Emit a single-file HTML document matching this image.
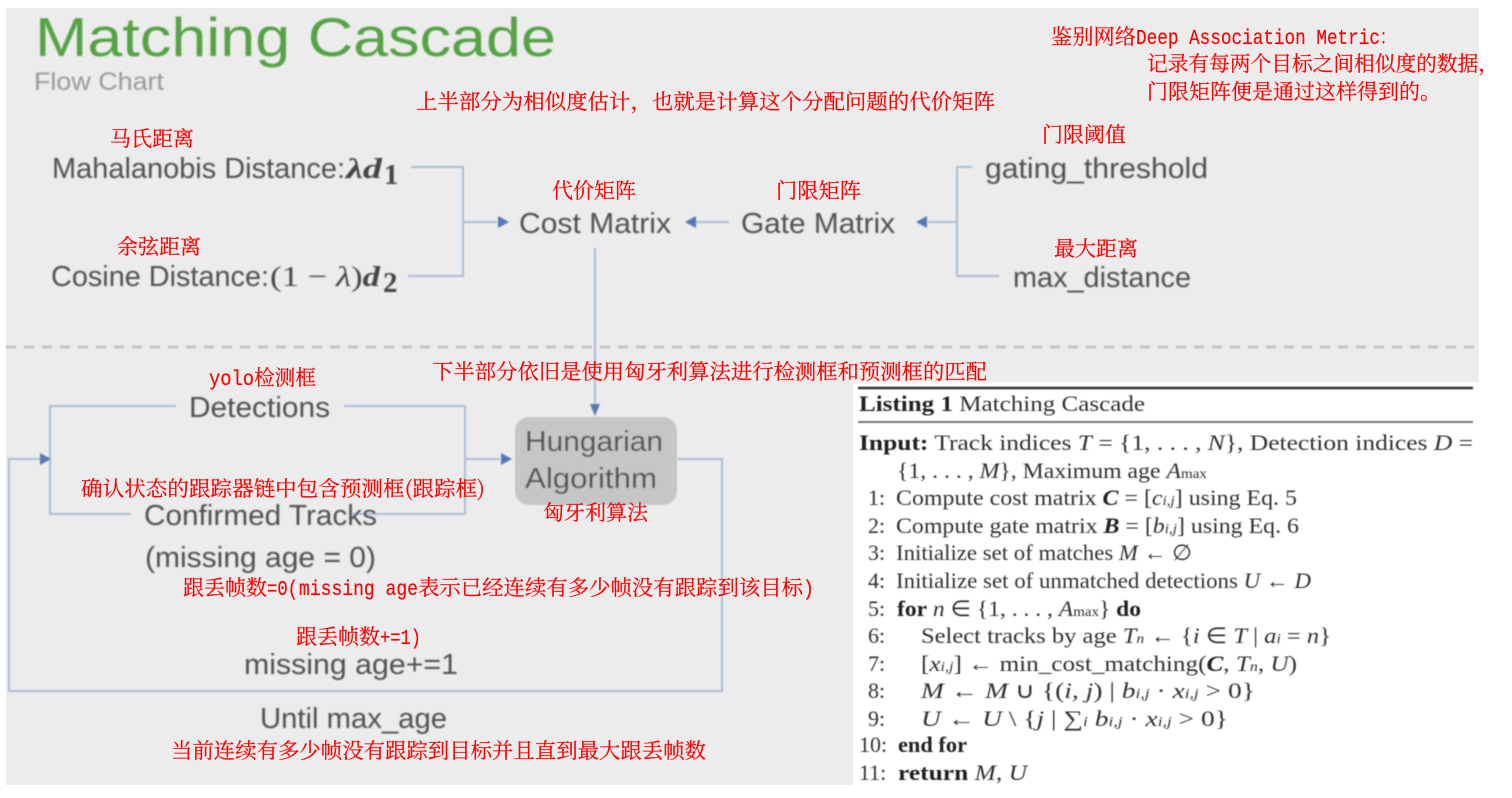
<!DOCTYPE html>
<html><head><meta charset="utf-8"><style>
html,body{margin:0;padding:0;background:#fff;width:1512px;height:798px;overflow:hidden}
svg{display:block}
.s{font-family:"Liberation Sans","DejaVu Sans",sans-serif;fill:#505050;font-size:29px}
.m{font-family:"Liberation Serif",serif;fill:#444;font-size:29px}
.r{font-family:"Noto Serif CJK SC","Liberation Serif",serif;fill:#f00;font-size:21px;stroke:#f00;stroke-width:.2}
.e{font-family:"Liberation Mono",monospace;fill:#f00;font-size:21px;stroke:#f00;stroke-width:.2}
.l{font-family:"Liberation Serif",serif;fill:#333;font-size:22px}
.b{font-weight:bold;fill:#222}
.i{font-style:italic}
.c{fill:none;stroke:#abbbd4;stroke-width:2}
</style></head><body>
<svg width="1512" height="798" viewBox="0 0 1512 798" xmlns="http://www.w3.org/2000/svg">
<defs>
<filter id="f" x="-5%" y="-20%" width="110%" height="140%"><feGaussianBlur stdDeviation="0.7"/></filter>
<filter id="g" x="-5%" y="-20%" width="110%" height="140%"><feGaussianBlur stdDeviation="0.5"/></filter>
</defs>
<rect x="6" y="8" width="1473" height="777" fill="#ececec"/>
<rect x="853" y="382" width="626" height="352" fill="#fff"/>
<rect x="853" y="734" width="659" height="52" fill="#fff"/>
<rect x="1479" y="0" width="33" height="798" fill="#fff"/>
<g filter="url(#f)">
<text x="35" y="56" textLength="521" lengthAdjust="spacingAndGlyphs" font-family="Liberation Sans" font-size="55" fill="#55a345">Matching Cascade</text>
<text x="34" y="90" textLength="130" lengthAdjust="spacingAndGlyphs" font-family="Liberation Sans" font-size="25" fill="#9a9a9a">Flow Chart</text>
<line x1="6" y1="347" x2="1477" y2="347" stroke="#bdbdbd" stroke-width="2.5" stroke-dasharray="10 8"/>
<g class="c">
<path d="M411 167H463V276H408"/><path d="M463 222H497"/>
<path d="M972 167H957V276H999"/><path d="M957 222H928"/>
<path d="M729 222H696"/>
<path d="M595 248V406"/>
<path d="M176 406H50V514H131"/><path d="M344 406H465V514H352"/>
<path d="M465 459H500"/><path d="M50 459H9V691H722V459H678"/>
</g>
<g fill="#5577b5">
<path d="M509 222l-11-6v12z"/><path d="M685 222l11-6v12z"/><path d="M916 222l11-6v12z"/>
<path d="M595 416l-5-12h10z"/><path d="M51 459l-11-6v12z"/><path d="M512 459l-11-6v12z"/>
</g>
<rect x="515" y="417" width="162" height="88" rx="14" fill="#c6c6c6"/>
<text class="s" x="52" y="178" textLength="293" lengthAdjust="spacingAndGlyphs">Mahalanobis Distance:</text>
<text class="m i b" x="346" y="178" textLength="36" lengthAdjust="spacingAndGlyphs" style="fill:#444">λd</text>
<text class="m b" x="384" y="184" font-size="15" style="fill:#444">1</text>
<text class="s" x="51" y="286" textLength="218" lengthAdjust="spacingAndGlyphs">Cosine Distance:</text>
<text class="m" x="270" y="286" textLength="110" lengthAdjust="spacingAndGlyphs">(1 − <tspan class="i">λ</tspan>)<tspan class="i b" style="fill:#444">d</tspan></text>
<text class="m b" x="383" y="292" font-size="15" style="fill:#444">2</text>
<text class="s" x="519" y="233" textLength="152" lengthAdjust="spacingAndGlyphs">Cost Matrix</text>
<text class="s" x="741" y="233" textLength="154" lengthAdjust="spacingAndGlyphs">Gate Matrix</text>
<text class="s" x="985" y="178" textLength="223" lengthAdjust="spacingAndGlyphs">gating_threshold</text>
<text class="s" x="1013" y="287" textLength="178" lengthAdjust="spacingAndGlyphs">max_distance</text>
<text class="s" x="189" y="417" textLength="141" lengthAdjust="spacingAndGlyphs">Detections</text>
<text class="s" x="144" y="525" textLength="233" lengthAdjust="spacingAndGlyphs">Confirmed Tracks</text>
<text class="s" x="145" y="567" textLength="231" lengthAdjust="spacingAndGlyphs">(missing age = 0)</text>
<text class="s" x="525" y="451" textLength="138" lengthAdjust="spacingAndGlyphs">Hungarian</text>
<text class="s" x="525" y="488" textLength="132" lengthAdjust="spacingAndGlyphs">Algorithm</text>
<text class="s" x="244" y="674" textLength="214" lengthAdjust="spacingAndGlyphs">missing age+=1</text>
<text class="s" x="260" y="728" textLength="187" lengthAdjust="spacingAndGlyphs">Until max_age</text>
</g>
<g filter="url(#g)">
<line x1="858" y1="388" x2="1473" y2="388" stroke="#333" stroke-width="2.5"/>
<line x1="858" y1="422" x2="1473" y2="422" stroke="#777" stroke-width="2"/>
<text class="l" x="859" y="411" textLength="286" lengthAdjust="spacingAndGlyphs"><tspan class="b">Listing 1</tspan> Matching Cascade</text>
<text class="l" x="859" y="450" textLength="614" lengthAdjust="spacingAndGlyphs"><tspan class="b">Input:</tspan> Track indices <tspan class="i">T</tspan> = {1, . . . , <tspan class="i">N</tspan>}, Detection indices <tspan class="i">D</tspan> =</text>
<text class="l" x="897" y="478" textLength="310" lengthAdjust="spacingAndGlyphs">{1, . . . , <tspan class="i">M</tspan>}, Maximum age <tspan class="i">A</tspan><tspan font-size="14">max</tspan></text>
<text class="l" x="868" y="505">1:</text>
<text class="l" x="896" y="505" textLength="401" lengthAdjust="spacingAndGlyphs">Compute cost matrix <tspan class="i b">C</tspan> = [<tspan class="i">c</tspan><tspan class="i" font-size="14">i,j</tspan>] using Eq. 5</text>
<text class="l" x="868" y="533">2:</text>
<text class="l" x="896" y="533" textLength="403" lengthAdjust="spacingAndGlyphs">Compute gate matrix <tspan class="i b">B</tspan> = [<tspan class="i">b</tspan><tspan class="i" font-size="14">i,j</tspan>] using Eq. 6</text>
<text class="l" x="868" y="560">3:</text>
<text class="l" x="896" y="560" textLength="296" lengthAdjust="spacingAndGlyphs">Initialize set of matches <tspan class="i">M</tspan> ← ∅</text>
<text class="l" x="868" y="588">4:</text>
<text class="l" x="896" y="588" textLength="415" lengthAdjust="spacingAndGlyphs">Initialize set of unmatched detections <tspan class="i">U</tspan> ← <tspan class="i">D</tspan></text>
<text class="l" x="868" y="616">5:</text>
<text class="l" x="897" y="616" textLength="244" lengthAdjust="spacingAndGlyphs"><tspan class="b">for</tspan> <tspan class="i">n</tspan> ∈ {1, . . . , <tspan class="i">A</tspan><tspan font-size="14">max</tspan>} <tspan class="b">do</tspan></text>
<text class="l" x="868" y="643">6:</text>
<text class="l" x="921" y="643" textLength="410" lengthAdjust="spacingAndGlyphs">Select tracks by age <tspan class="i">T</tspan><tspan class="i" font-size="14">n</tspan> ← {<tspan class="i">i</tspan> ∈ <tspan class="i">T</tspan> | <tspan class="i">a</tspan><tspan class="i" font-size="14">i</tspan> = <tspan class="i">n</tspan>}</text>
<text class="l" x="868" y="671">7:</text>
<text class="l" x="921" y="671" textLength="376" lengthAdjust="spacingAndGlyphs">[<tspan class="i">x</tspan><tspan class="i" font-size="14">i,j</tspan>] ← min_cost_matching(<tspan class="i b">C</tspan>, <tspan class="i">T</tspan><tspan class="i" font-size="14">n</tspan>, <tspan class="i">U</tspan>)</text>
<text class="l" x="868" y="698">8:</text>
<text class="l" x="921" y="698" textLength="334" lengthAdjust="spacingAndGlyphs"><tspan class="i">M</tspan> ← <tspan class="i">M</tspan> ∪ {(<tspan class="i">i, j</tspan>) | <tspan class="i">b</tspan><tspan class="i" font-size="14">i,j</tspan> · <tspan class="i">x</tspan><tspan class="i" font-size="14">i,j</tspan> &gt; 0}</text>
<text class="l" x="868" y="726">9:</text>
<text class="l" x="921" y="726" textLength="307" lengthAdjust="spacingAndGlyphs"><tspan class="i">U</tspan> ← <tspan class="i">U</tspan> \ {<tspan class="i">j</tspan> | ∑<tspan class="i" font-size="14">i</tspan> <tspan class="i">b</tspan><tspan class="i" font-size="14">i,j</tspan> · <tspan class="i">x</tspan><tspan class="i" font-size="14">i,j</tspan> &gt; 0}</text>
<text class="l" x="859" y="752">10:</text>
<text class="l b" x="898" y="752" textLength="69" lengthAdjust="spacingAndGlyphs">end for</text>
<text class="l" x="859" y="780">11:</text>
<text class="l" x="898" y="780" textLength="129" lengthAdjust="spacingAndGlyphs"><tspan class="b">return</tspan>  <tspan class="i">M</tspan>, <tspan class="i">U</tspan></text>
</g>
<text class="r" x="1051" y="44" textLength="85" lengthAdjust="spacingAndGlyphs">鉴别网络</text>
<text class="e" x="1136" y="44" textLength="244" lengthAdjust="spacingAndGlyphs">Deep Association Metric</text>
<text class="r" x="1380" y="44" textLength="15" lengthAdjust="spacingAndGlyphs">：</text>
<text class="r" x="1147" y="71" textLength="352" lengthAdjust="spacingAndGlyphs">记录有每两个目标之间相似度的数据，</text>
<text class="r" x="1147" y="99" textLength="294" lengthAdjust="spacingAndGlyphs">门限矩阵便是通过这样得到的。</text>
<text class="r" x="416" y="109" textLength="579" lengthAdjust="spacingAndGlyphs">上半部分为相似度估计，也就是计算这个分配问题的代价矩阵</text>
<text class="r" x="110" y="146" textLength="84" lengthAdjust="spacingAndGlyphs">马氏距离</text>
<text class="r" x="1042" y="142" textLength="84" lengthAdjust="spacingAndGlyphs">门限阈值</text>
<text class="r" x="552" y="198" textLength="84" lengthAdjust="spacingAndGlyphs">代价矩阵</text>
<text class="r" x="776" y="198" textLength="85" lengthAdjust="spacingAndGlyphs">门限矩阵</text>
<text class="r" x="117" y="254" textLength="84" lengthAdjust="spacingAndGlyphs">余弦距离</text>
<text class="r" x="1054" y="256" textLength="84" lengthAdjust="spacingAndGlyphs">最大距离</text>
<text class="r" x="432" y="379" textLength="555" lengthAdjust="spacingAndGlyphs">下半部分依旧是使用匈牙利算法进行检测框和预测框的匹配</text>
<text class="e" x="209" y="385" textLength="45" lengthAdjust="spacingAndGlyphs">yolo</text>
<text class="r" x="254" y="385" textLength="62" lengthAdjust="spacingAndGlyphs">检测框</text>
<text class="r" x="81" y="496" textLength="404" lengthAdjust="spacingAndGlyphs">确认状态的跟踪器链中包含预测框(跟踪框)</text>
<text class="r" x="543" y="520" textLength="105" lengthAdjust="spacingAndGlyphs">匈牙利算法</text>
<text class="r" x="183" y="595" textLength="84" lengthAdjust="spacingAndGlyphs">跟丢帧数</text>
<text class="e" x="267" y="595" textLength="31" lengthAdjust="spacingAndGlyphs">=0(</text>
<text class="e" x="299" y="595" textLength="119" lengthAdjust="spacingAndGlyphs">missing age</text>
<text class="r" x="418" y="595" textLength="385" lengthAdjust="spacingAndGlyphs">表示已经连续有多少帧没有跟踪到该目标</text>
<text class="e" x="803" y="595" textLength="11" lengthAdjust="spacingAndGlyphs">)</text>
<text class="r" x="296" y="644" textLength="84" lengthAdjust="spacingAndGlyphs">跟丢帧数</text>
<text class="e" x="380" y="644" textLength="41" lengthAdjust="spacingAndGlyphs">+=1)</text>
<text class="r" x="171" y="758" textLength="535" lengthAdjust="spacingAndGlyphs">当前连续有多少帧没有跟踪到目标并且直到最大跟丢帧数</text>
</svg>
</body></html>
